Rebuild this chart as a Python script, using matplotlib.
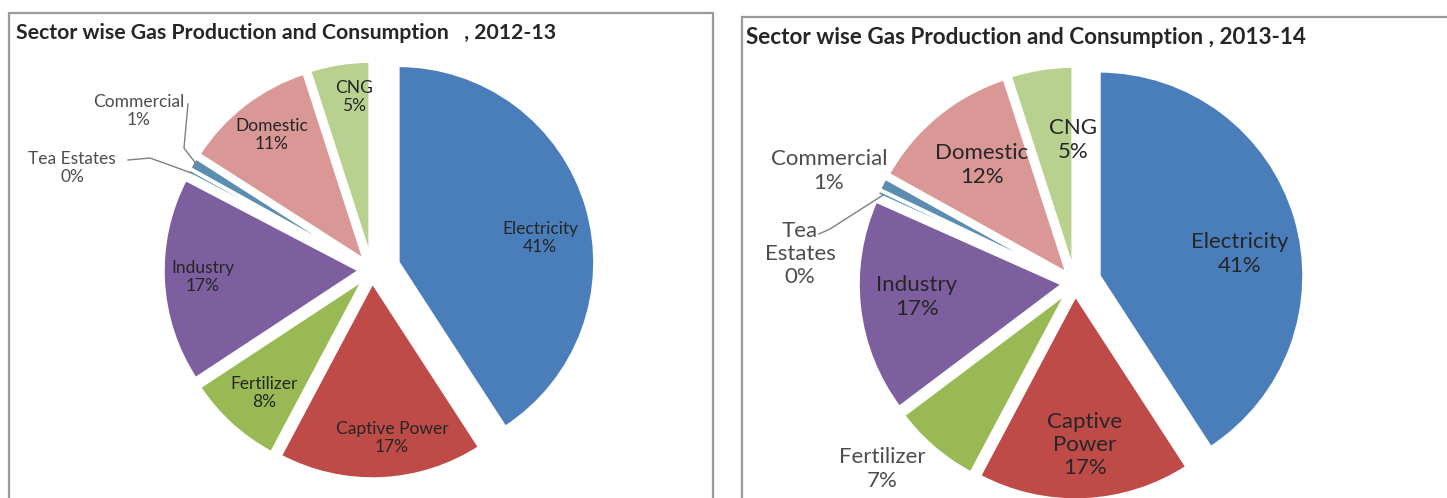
import numpy as np
import matplotlib
matplotlib.use("Agg")
import matplotlib.pyplot as plt
from matplotlib.patches import Rectangle

W, H = 1447, 498

# sector shares (%) for the two years
sectors_1213 = ["Electricity", "Captive Power", "Fertilizer", "Industry",
                "Tea Estates", "Commercial", "Domestic", "CNG"]
share_1213 = [41, 17, 8, 17, 0.4, 1, 11, 5]

sectors_1314 = ["Electricity", "Captive\nPower", "Fertilizer", "Industry",
                "Tea\nEstates", "Commercial", "Domestic", "CNG"]
share_1314 = [41, 17, 7, 17, 0.4, 1, 12, 5]

colors = ["#4a7ebb", "#be4b48", "#98b954", "#7d5fa0",
          "#3d96ae", "#5b8db0", "#d99795", "#b9d18e"]

plt.rcParams["font.family"] = ["Lato", "DejaVu Sans"]


def iy(y):
    # pixel rows run downward, the axes runs upward
    return H - y


def draw_pie(ax, values, labels, cx, cy, r, explode, label_xy, fs, outer, leaders):
    wedges, _ = ax.pie(values, colors=colors, startangle=90, counterclock=False,
                       explode=explode, radius=r, center=(cx, iy(cy)), frame=True,
                       wedgeprops=dict(edgecolor="white", linewidth=2.5))
    total = sum(values)
    for i, w in enumerate(wedges):
        txt = "%s\n%.0f%%" % (labels[i], values[i] / total * 100)
        lx, ly = label_xy[i]
        ax.text(lx, iy(ly), txt, ha="center", va="center", fontsize=fs,
                color="#4d4d4d" if i in outer else "#262626", linespacing=1.2)
        if i in leaders:
            mid = np.radians((w.theta1 + w.theta2) / 2)
            ex = w.center[0] + 0.97 * w.r * np.cos(mid)
            ey = w.center[1] + 0.97 * w.r * np.sin(mid)
            pts = leaders[i]
            ax.plot([p[0] for p in pts] + [ex], [iy(p[1]) for p in pts] + [ey],
                    color="#7f7f7f", lw=1)


fig = plt.figure(figsize=(W / 100, H / 100), dpi=100)
ax = fig.add_axes([0, 0, 1, 1])

# panel frames
ax.add_patch(Rectangle((9, iy(H + 20)), 704, H + 20 - 13, fill=False,
                       edgecolor="#9a9a9a", lw=1.6))
ax.add_patch(Rectangle((742, iy(H + 20)), 720, H + 20 - 17, fill=False,
                       edgecolor="#9a9a9a", lw=1.6))

ax.text(16, iy(33), "Sector wise Gas Production and Consumption   , 2012-13",
        fontsize=15.3, fontweight="bold", color="#262626", va="center")
ax.text(746, iy(37), "Sector wise Gas Production and Consumption , 2013-14",
        fontsize=16.2, fontweight="bold", color="#262626", va="center")

draw_pie(ax, share_1213, sectors_1213, 372, 270, 197,
         [27, 12, 12, 12, 12, 12, 12, 12],
         [(540, 238), (392, 438), (264, 393), (203, 277),
          (72, 168), (139, 111), (272, 135), (354, 97)],
         12.5, {4, 5},
         {4: [(128, 160), (150, 158)],
          5: [(188, 104), (184, 148)]})

draw_pie(ax, share_1314, sectors_1314, 1075, 283, 205,
         [25, 12, 12, 12, 12, 12, 12, 12],
         [(1240, 254), (1085, 445), (882, 469), (917, 297),
          (800, 254), (829, 171), (982, 165), (1073, 140)],
         16, {2, 4, 5},
         {4: [(819, 234), (830, 229)]})

ax.set_xlim(0, W)
ax.set_ylim(0, H)
ax.set_aspect("equal")
ax.axis("off")

fig.savefig("out.png", dpi=100)
